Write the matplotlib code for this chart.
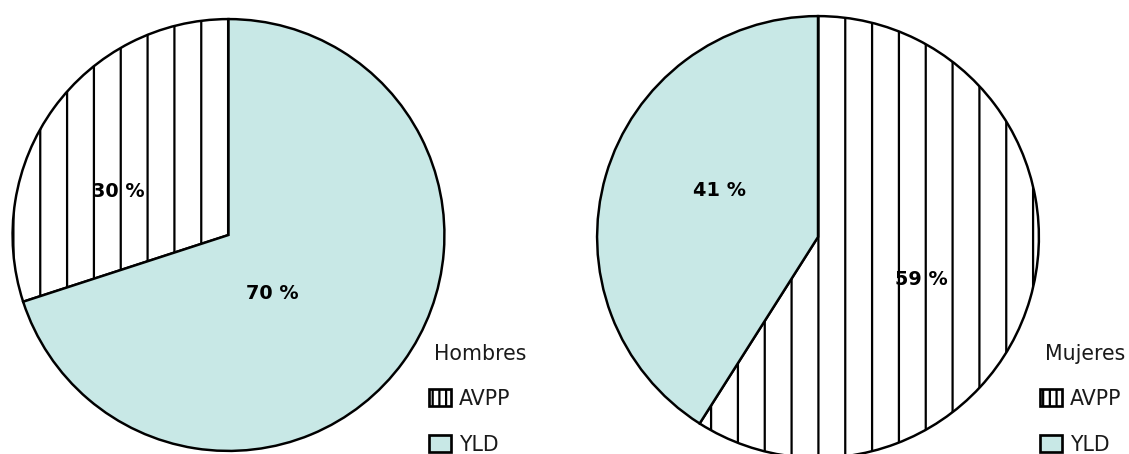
import matplotlib
matplotlib.use("Agg")
import matplotlib.pyplot as plt
from matplotlib.patches import Patch

# ---- data ----
categories = ["AVPP", "YLD"]
hombres = [30, 70]
mujeres = [59, 41]
hombres_labels = ["30 %", "70 %"]
mujeres_labels = ["59 %", "41 %"]
titles = ["Hombres", "Mujeres"]

# ---- style ----
plt.rcParams['font.family'] = ['DejaVu Sans']
plt.rcParams['hatch.linewidth'] = 1.0
TEAL = "#c8e8e6"
TXT = "#1a1a1a"
DPI = 161
W, H = 1129, 454
fig = plt.figure(figsize=(W / DPI, H / DPI), dpi=DPI)

def px_axes(cx, cy, r):
    # cx, cy in pixels from top-left
    return fig.add_axes([(cx - r) / W, (H - cy - r) / H, 2 * r / W, 2 * r / H])

def draw_pie(ax, values, counterclock, labels, label_pos):
    wedges, _ = ax.pie(values, startangle=90, counterclock=counterclock,
                       colors=["white", TEAL],
                       wedgeprops=dict(edgecolor="black", linewidth=1.1))
    wedges[0].set_hatch("|")
    ax.set_xlim(-1.005, 1.005)
    ax.set_ylim(-1.005, 1.005)
    ax.set_aspect("equal")
    ax.axis("off")
    for lab, (x, y) in zip(labels, label_pos):
        ax.text(x, y, lab, ha="center", va="center", fontsize=8.6,
                fontweight="bold", color="black")
    return wedges

ax1 = px_axes(228.5, 235, 217)
draw_pie(ax1, hombres, True, hombres_labels,
         [(-0.510, 0.200), (0.205, -0.272)])

ax2 = px_axes(818, 237, 222)
draw_pie(ax2, mujeres, False, mujeres_labels,
         [(0.468, -0.194), (-0.448, 0.212)])

handles = [Patch(facecolor="white", edgecolor="black", hatch="||||", linewidth=1.2),
           Patch(facecolor=TEAL, edgecolor="black", linewidth=1.2)]

for x_box, x_title, title in [(429, 434, titles[0]), (1040, 1045, titles[1])]:
    fig.text(x_title / W, 1 - 354 / H, title, ha="left", va="center",
             fontsize=9.2, color=TXT)
    fig.legend(handles, categories, loc="upper left",
               bbox_to_anchor=(x_box / W, 1 - 389 / H),
               frameon=False, fontsize=9.2, handlelength=1.07, handleheight=0.88,
               handletextpad=0.4, labelspacing=1.25, borderpad=0,
               borderaxespad=0, labelcolor=TXT)

fig.savefig("out.png", dpi=DPI)
